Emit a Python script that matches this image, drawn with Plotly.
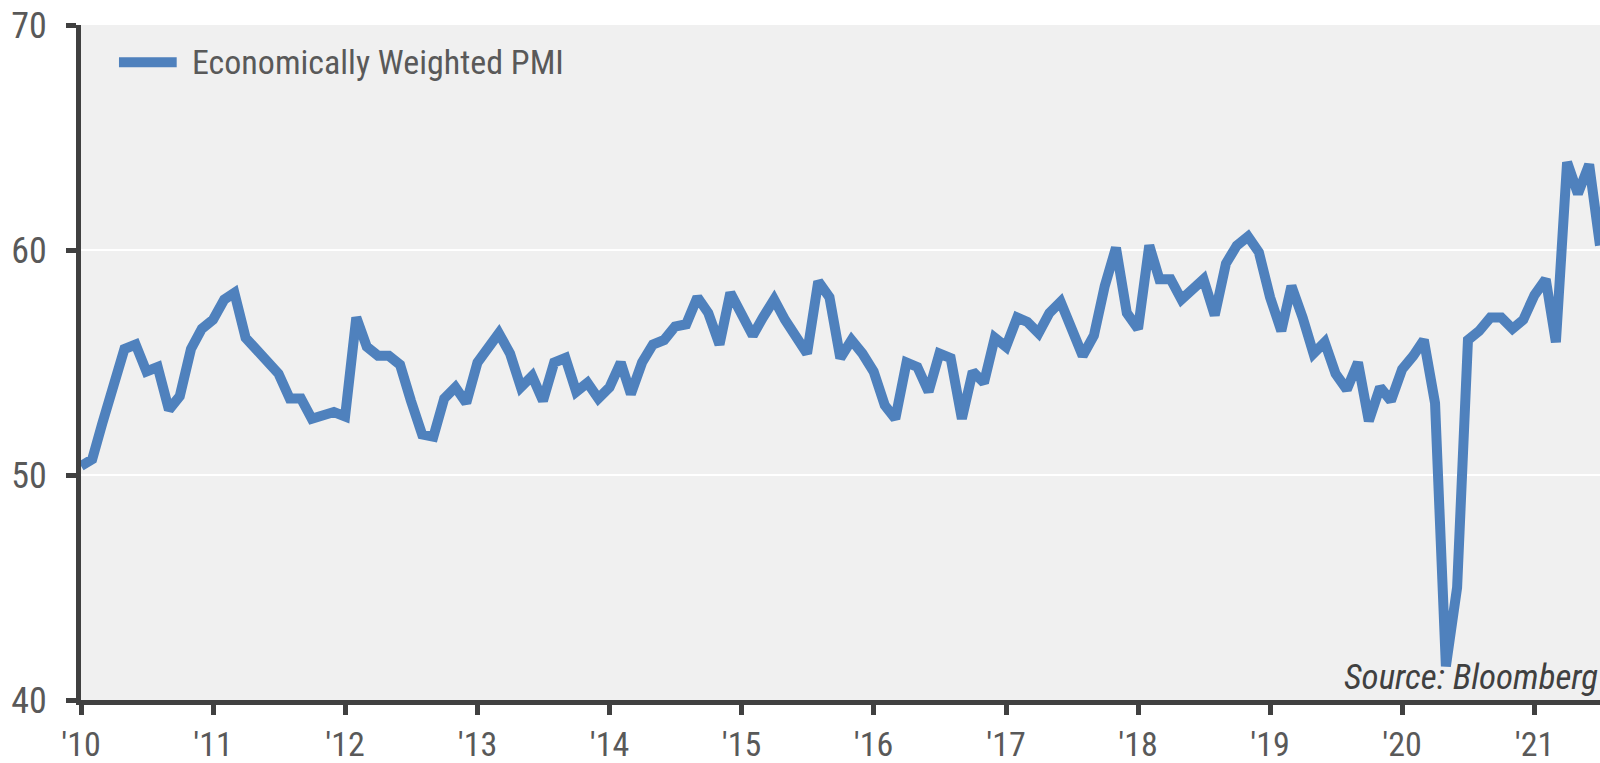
import pandas as pd
import plotly.graph_objects as go

start_month = "2010-01-01"
series_name = "Economically Weighted PMI"
pmi = [
    # 2010
    50.4, 50.7, 52.3, 53.9, 55.6, 55.8, 54.6, 54.8, 52.9, 53.5, 55.6, 56.5,
    # 2011
    56.9, 57.8, 58.1, 56.1, 55.6, 55.1, 54.5, 53.4, 53.4, 52.5, 52.6, 52.8,
    # 2012
    52.6, 57.0, 55.7, 55.3, 55.3, 54.9, 53.3, 51.8, 51.7, 53.4, 53.9, 53.2,
    # 2013
    55.0, 55.6, 56.3, 55.4, 53.9, 54.4, 53.3, 55.0, 55.2, 53.7, 54.1, 53.4,
    # 2014
    53.9, 55.0, 53.6, 55.0, 55.8, 56.0, 56.6, 56.7, 57.9, 57.2, 55.8, 58.1,
    # 2015
    57.1, 56.2, 57.0, 57.8, 56.9, 56.2, 55.4, 58.6, 57.9, 55.2, 56.0, 55.4,
    # 2016
    54.6, 53.1, 52.5, 55.0, 54.8, 53.7, 55.4, 55.2, 52.5, 54.6, 54.1, 56.1,
    # 2017
    55.7, 57.0, 56.8, 56.3, 57.2, 57.7, 56.6, 55.3, 56.2, 58.4, 60.1, 57.2,
    # 2018
    56.5, 60.2, 58.7, 58.7, 57.8, 58.2, 58.7, 57.1, 59.4, 60.2, 60.6, 59.9,
    # 2019
    57.9, 56.4, 58.4, 57.0, 55.4, 55.9, 54.5, 53.8, 55.0, 52.4, 53.9, 53.3,
    # 2020
    54.7, 55.3, 56.0, 53.2, 41.5, 45.0, 56.0, 56.4, 57.0, 57.0, 56.5, 56.9,
    # 2021
    58.0, 58.7, 55.9, 63.9, 62.5, 63.8, 60.2,
]
tick_years = list(range(2010, 2022))
tick_labels = ["'" + str(y)[2:] for y in tick_years]
y_ticks = [40, 50, 60, 70]

dates = pd.date_range(start_month, periods=len(pmi), freq="MS")

LINE = "#4F81BD"
AXIS = "#404040"
TEXT = "#595959"
FONT = "Liberation Sans Narrow, Roboto Condensed, Arial Narrow, sans-serif"

fig = go.Figure()
fig.add_trace(go.Scatter(
    x=dates, y=pmi, mode="lines", name=series_name,
    line=dict(color=LINE, width=10, shape="linear"),
    showlegend=False, cliponaxis=True,
))

# manual legend
fig.add_shape(type="line", xref="paper", yref="paper",
              x0=0.025, x1=0.063, y0=0.945, y1=0.945,
              line=dict(color=LINE, width=10))
fig.add_annotation(xref="paper", yref="paper", x=0.072, y=0.945,
                   xanchor="left", yanchor="middle", showarrow=False,
                   text=series_name, font=dict(family=FONT, size=34, color=TEXT))
fig.add_annotation(xref="paper", yref="paper", x=1.0, y=0.0,
                   xanchor="right", yanchor="bottom", showarrow=False,
                   text="<i>Source: Bloomberg</i>",
                   font=dict(family=FONT, size=35, color=AXIS))

fig.update_layout(
    width=1600, height=763,
    margin=dict(l=81, r=0, t=25, b=63),
    paper_bgcolor="white", plot_bgcolor="#F0F0F0",
    font=dict(family=FONT, color=TEXT),
)
fig.update_xaxes(
    type="date", range=[dates[0], dates[-1]],
    tickmode="array", tickvals=[pd.Timestamp(f"{y}-01-01") for y in tick_years],
    ticktext=tick_labels, tickfont=dict(size=34, color=TEXT),
    showgrid=False, zeroline=False,
    showline=True, linecolor=AXIS, linewidth=5,
    ticks="outside", ticklen=10, tickwidth=5, tickcolor=AXIS,
    ticklabelstandoff=0,
)
fig.update_yaxes(
    range=[40, 70], tickmode="array", tickvals=y_ticks,
    tickfont=dict(size=36, color=TEXT),
    showgrid=True, gridcolor="white", gridwidth=2, zeroline=False,
    showline=True, linecolor=AXIS, linewidth=5,
    ticks="outside", ticklen=10, tickwidth=5, tickcolor=AXIS,
    ticklabelstandoff=12,
)

fig.write_html(
    "out.html",
    config={"displayModeBar": False},
    post_script="document.body.style.margin='0';document.body.style.overflow='hidden';",
)
